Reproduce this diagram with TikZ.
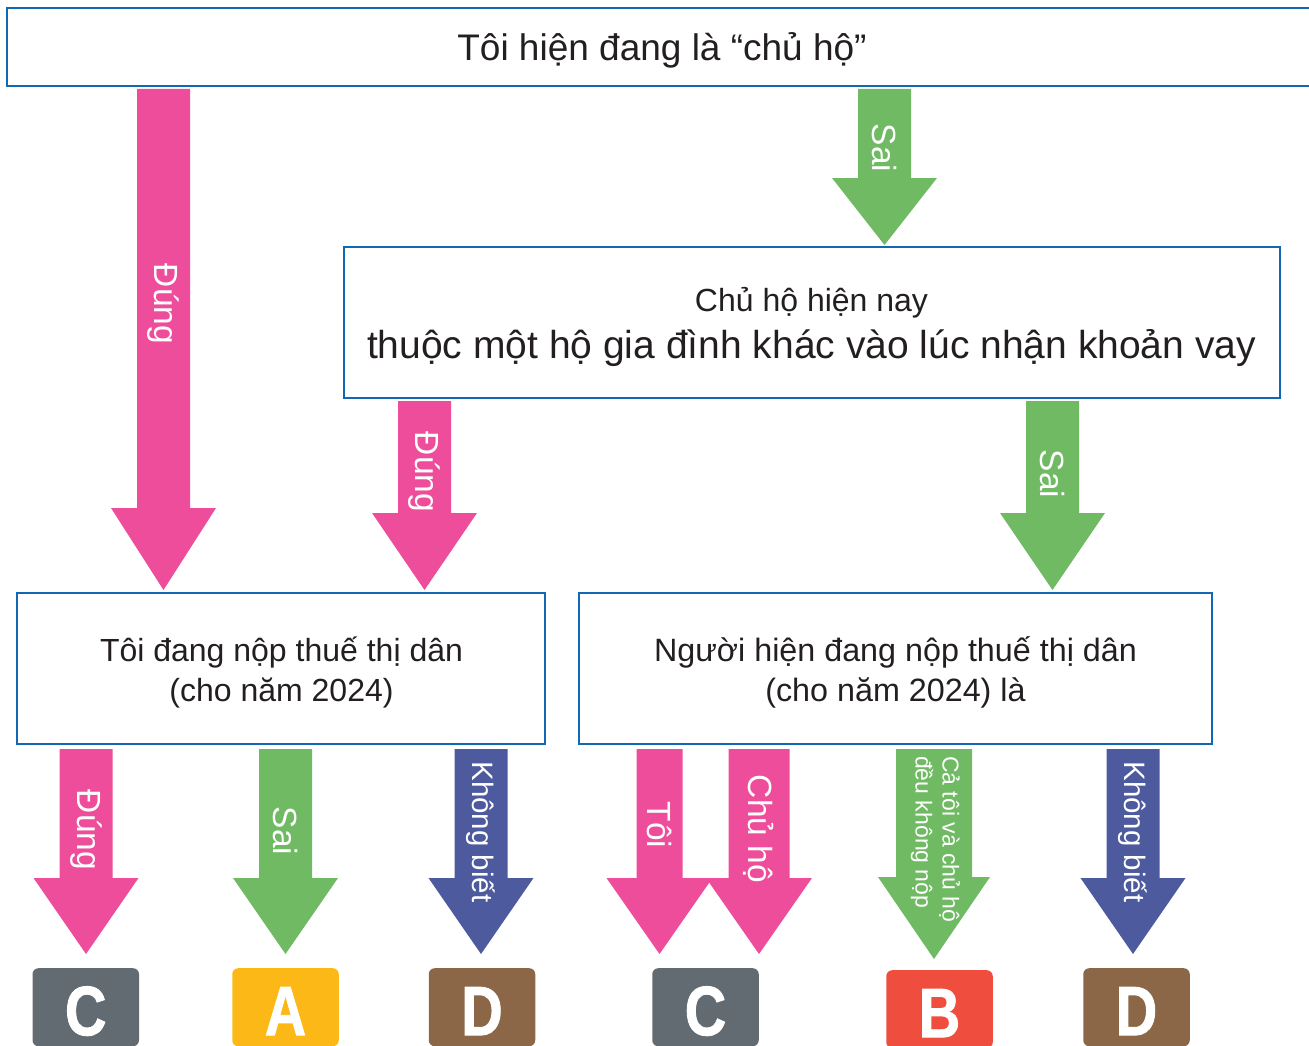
\documentclass[tikz,border=0pt]{standalone}
\usepackage{fontspec}
\setmainfont{Liberation Sans}
\newfontfamily\letterfont[FakeStretch=0.82,FakeBold=1.2]{Liberation Sans}
\definecolor{boxblue}{RGB}{18,104,178}
\definecolor{pinkA}{RGB}{238,77,155}
\definecolor{greenA}{RGB}{111,186,99}
\definecolor{navyA}{RGB}{77,90,158}
\definecolor{grayC}{RGB}{98,106,114}
\definecolor{yellowA}{RGB}{251,184,23}
\definecolor{brownD}{RGB}{139,102,71}
\definecolor{redB}{RGB}{239,78,62}
\definecolor{txt}{RGB}{35,31,32}
% #1 colour, #2 x centre, #3 shaft half width, #4 head half width, #5 y top, #6 y head, #7 y tip
\newcommand{\blockarrow}[7]{%
  \fill[#1] ({#2-#3},#5) -- ({#2+#3},#5) -- ({#2+#3},#6) -- ({#2+#4},#6)
    -- (#2,#7) -- ({#2-#4},#6) -- ({#2-#3},#6) -- cycle;}
\begin{document}
\begin{tikzpicture}[x=1pt,y=-1pt,
  box/.style={draw=boxblue, line width=2.5pt, fill=white, inner sep=0pt},
  boxtext/.style={inner sep=0pt, align=center, text=txt},
  lab/.style={text=white, inner sep=0pt, rotate=-90,
    font=\fontsize{33.5}{33.5}\selectfont},
  letterbox/.style={rounded corners=6pt, inner sep=0pt, anchor=north,
    minimum width=106.5pt, minimum height=78pt, text=white,
    text height=56pt, text depth=0pt,
    font=\letterfont\bfseries\fontsize{70}{70}\selectfont}]
\useasboundingbox (0,0) rectangle (1309,1046);
\clip (0,0) rectangle (1309,1046);

% boxes
\node[box, minimum width=1310pt, minimum height=78pt] (top) at (662,47) {};
\node[boxtext, font=\fontsize{37}{43}\selectfont] (topt) at (662,50)
  {Tôi hiện đang là “chủ hộ”};
\node[box, minimum width=936pt, minimum height=151pt] (mid) at (812,322.5) {};
\node[boxtext, font=\fontsize{39}{47}\selectfont] (midt) at (811.5,327)
  {{\fontsize{32}{47}\selectfont Chủ hộ hiện nay}\\thuộc một hộ gia đình khác vào lúc nhận khoản vay};
\node[box, minimum width=528pt, minimum height=151pt] (lbox) at (281,668.5) {};
\node[boxtext, font=\fontsize{32}{40}\selectfont] (lboxt) at (281.5,672.5)
  {Tôi đang nộp thuế thị dân\\(cho năm 2024)};
\node[box, minimum width=633pt, minimum height=151pt] (rbox) at (895.5,668.5) {};
\node[boxtext, font=\fontsize{32.3}{40}\selectfont] (rboxt) at (895.5,672.5)
  {Người hiện đang nộp thuế thị dân\\(cho năm 2024) là};

% first level arrows
\blockarrow{pinkA}{163.5}{26.5}{52.5}{89}{508}{590}
\node[lab] (l1) at (163.5,304) {Đúng};
\blockarrow{greenA}{884.5}{26.5}{52.5}{89}{178}{245}
\node[lab] (l2) at (884.5,148) {Sai};
\blockarrow{pinkA}{424.5}{26.5}{52.5}{401}{513}{590}
\node[lab] (l3) at (424.5,472) {Đúng};
\blockarrow{greenA}{1052.5}{26.5}{52.5}{401}{513}{590}
\node[lab] (l4) at (1052.5,474) {Sai};

% bottom arrows
\blockarrow{pinkA}{86}{26.5}{52.5}{749}{878}{954}
\node[lab] (l5) at (86,830) {Đúng};
\blockarrow{greenA}{285.5}{26.5}{52.5}{749}{878}{954}
\node[lab] (l6) at (285.5,831) {Sai};
\blockarrow{navyA}{481}{26.5}{52.5}{749}{878}{954}
\node[lab, font=\fontsize{29.5}{29.5}\selectfont] (l7) at (481,832) {Không biết};
\blockarrow{pinkA}{659.5}{23}{53}{749}{878}{954}
\node[lab] (l8) at (659.5,825) {Tôi};
\blockarrow{pinkA}{759}{30.5}{53}{749}{878}{954}
\node[lab] (l9) at (759,829) {Chủ hộ};
\blockarrow{greenA}{934}{38}{56}{749}{877}{959}
\node[lab, font=\fontsize{23}{27}\selectfont, align=left, anchor=west]
  (l10) at (935.5,756) {Cả tôi và chủ hộ\\đều không nộp};
\blockarrow{navyA}{1133}{26.5}{52.5}{749}{878}{954}
\node[lab, font=\fontsize{29.5}{29.5}\selectfont] (l11) at (1133,832) {Không biết};

% result letters
\node[letterbox, fill=grayC] (c1) at (85.75,968) {C};
\node[letterbox, fill=yellowA] (a) at (285.5,968) {A};
\node[letterbox, fill=brownD] (d1) at (482,968) {D};
\node[letterbox, fill=grayC] (c2) at (705.5,968) {C};
\node[letterbox, fill=redB] (b) at (939.5,970) {B};
\node[letterbox, fill=brownD] (d2) at (1136.5,968) {D};
\end{tikzpicture}
\end{document}
